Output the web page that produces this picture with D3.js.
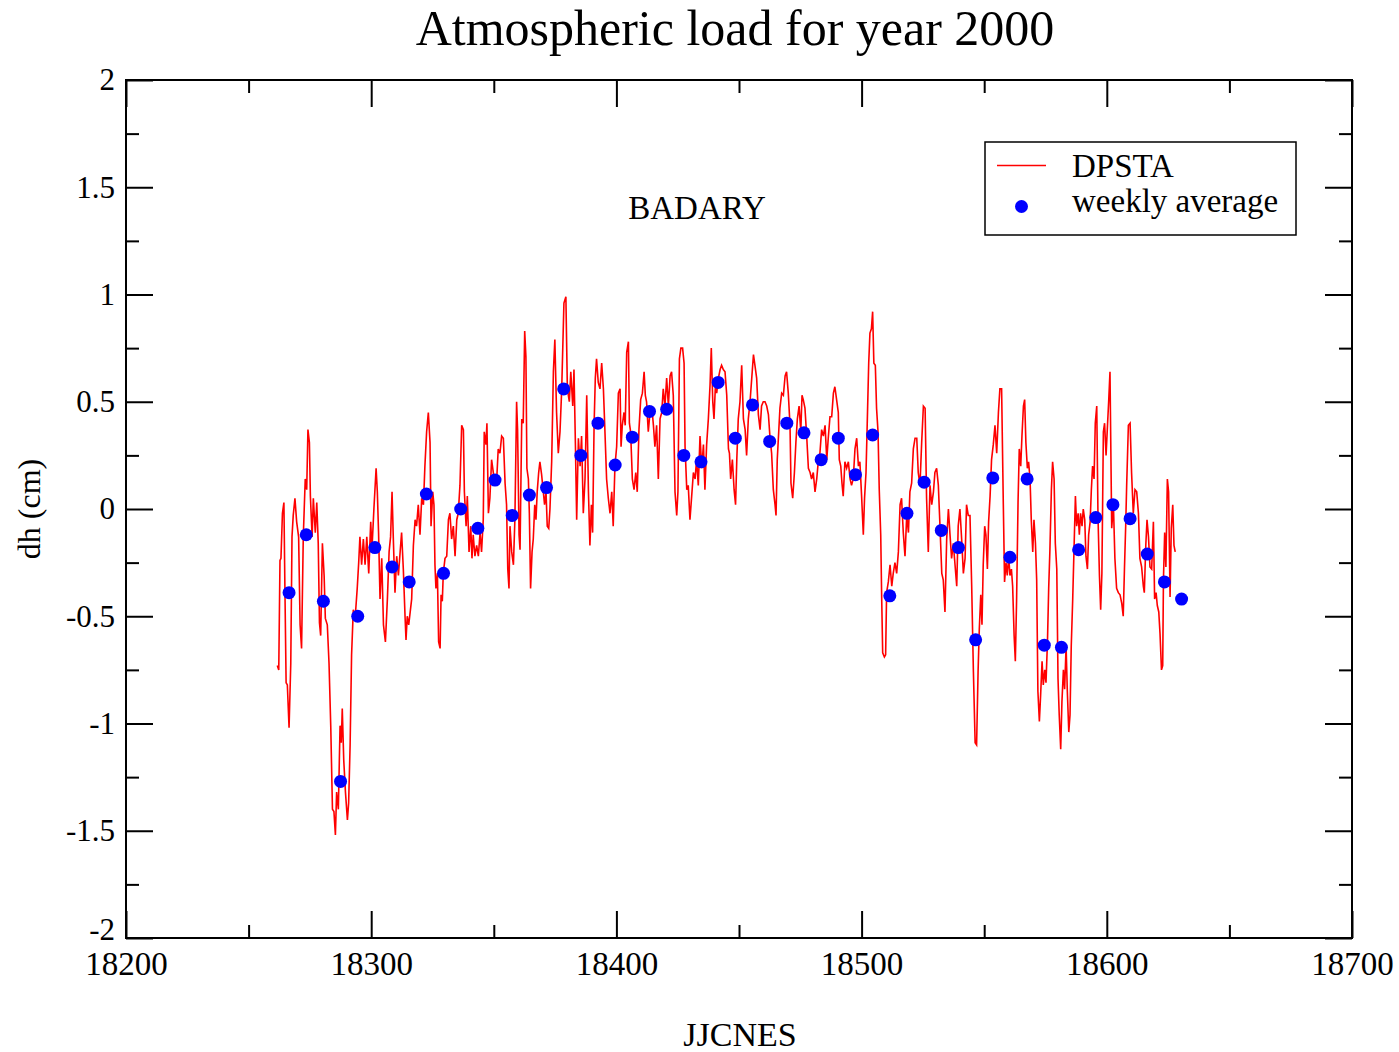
<!DOCTYPE html>
<html>
<head>
<meta charset="utf-8">
<script src="https://cdn.jsdelivr.net/npm/d3@7"></script>
<style>
  body { margin: 0; background: #fff; }
  svg { display: block; }
  text { font-family: "Liberation Serif", "Times New Roman", serif; fill: #000; }
</style>
</head>
<body>
<div id="chart"></div>
<script>
// chart texts
const title = "Atmospheric load for year 2000";
const station = "BADARY";
const xLabel = "JJCNES";
const yLabel = "dh (cm)";
const seriesNames = ["DPSTA", "weekly average"];

// axis ticks
const xMajor = [18200, 18300, 18400, 18500, 18600, 18700];
const xMinor = [18250, 18350, 18450, 18550, 18650];
const yMajor = [-2, -1.5, -1, -0.5, 0, 0.5, 1, 1.5, 2];
const yMajorLabels = ["-2", "-1.5", "-1", "-0.5", "0", "0.5", "1", "1.5", "2"];
const yMinor = [-1.75, -1.25, -0.75, -0.25, 0.25, 0.75, 1.25, 1.75];

// DPSTA series, [JJCNES day, dh cm]
const dpsta = [
  [18261.7,-0.73],[18262.3,-0.75],[18262.8,-0.24],[18263.2,-0.23],[18263.8,-0.02],[18264.4,0.03],[18264.8,-0.36],
  [18265.3,-0.81],[18265.8,-0.82],[18266.5,-1.02],[18267.2,-0.72],[18267.7,-0.13],[18268.2,-0.03],[18268.9,0.05],
  [18269.6,-0.06],[18270.4,-0.13],[18271.0,-0.54],[18271.6,-0.65],[18272.3,-0.13],[18273.1,0.14],[18273.7,0.09],
  [18274.2,0.37],[18274.8,0.31],[18275.2,0.06],[18275.9,-0.13],[18276.4,0.05],[18277.2,-0.11],[18277.8,0.03],
  [18278.4,-0.16],[18278.9,-0.53],[18279.4,-0.59],[18280.1,-0.16],[18280.8,-0.31],[18281.3,-0.51],[18282.1,-0.54],
  [18282.8,-0.72],[18283.5,-1.01],[18284.2,-1.40],[18284.8,-1.41],[18285.4,-1.52],[18285.9,-1.32],[18286.6,-1.40],
  [18287.3,-1.01],[18287.8,-1.09],[18288.2,-0.93],[18288.8,-1.17],[18289.5,-1.32],[18290.3,-1.45],[18290.8,-1.37],
  [18291.4,-1.10],[18292.0,-0.68],[18292.7,-0.47],[18293.5,-0.50],[18294.3,-0.37],[18294.9,-0.25],[18295.4,-0.13],
  [18296.1,-0.26],[18296.8,-0.14],[18297.5,-0.26],[18298.2,-0.13],[18299.0,-0.30],[18299.8,-0.06],[18300.3,-0.19],
  [18301.1,0.00],[18302.0,0.19],[18302.5,0.08],[18303.0,-0.11],[18303.6,-0.42],[18304.3,-0.23],[18305.0,-0.54],
  [18305.8,-0.62],[18306.6,-0.42],[18307.3,-0.20],[18307.9,-0.13],[18308.5,0.08],[18309.0,-0.13],[18309.7,-0.39],
  [18310.4,-0.22],[18311.1,-0.31],[18311.8,-0.20],[18312.4,-0.11],[18313.1,-0.28],[18313.8,-0.50],[18314.2,-0.61],
  [18314.7,-0.50],[18315.3,-0.54],[18316.0,-0.47],[18316.5,-0.42],
  [18317.2,-0.17],[18317.9,-0.05],[18318.5,-0.08],[18319.2,0.02],[18319.9,-0.12],[18320.6,0.05],[18321.3,0.02],
  [18321.9,0.20],[18322.6,0.36],[18323.3,0.45],[18324.0,0.31],[18324.4,-0.08],[18325.1,0.08],[18325.6,0.02],
  [18326.0,-0.26],[18326.4,-0.37],[18327.0,-0.30],[18327.5,-0.62],[18328.1,-0.65],[18328.5,-0.40],[18329.0,-0.43],
  [18329.4,-0.30],[18330.1,-0.23],[18330.8,-0.22],[18331.5,-0.05],[18332.1,-0.02],[18332.8,-0.14],[18333.5,-0.08],
  [18334.2,-0.22],[18334.9,-0.05],[18335.5,-0.02],[18336.2,0.11],[18336.9,0.39],[18337.6,0.37],[18338.0,0.08],
  [18338.7,-0.08],[18339.2,0.06],[18339.9,-0.20],[18340.6,-0.08],[18341.1,-0.23],[18341.6,-0.12],[18342.3,-0.22],
  [18343.0,-0.17],[18343.7,-0.22],[18344.4,-0.11],[18345.0,-0.20],[18345.7,-0.05],[18346.1,0.36],[18346.8,0.30],
  [18347.2,0.40],[18347.8,-0.02],[18348.4,0.05],[18349.1,0.23],[18349.8,0.17],[18350.5,0.11],[18351.2,0.14],
  [18351.8,0.28],[18352.5,0.26],[18353.2,0.34],[18353.9,0.33],[18354.6,0.12],[18355.2,0.02],[18355.7,-0.28],
  [18356.2,-0.37],[18356.6,-0.08],[18357.3,-0.20],[18358.0,-0.26],[18358.6,-0.05],[18359.3,0.50],[18359.7,0.37],
  [18360.3,-0.12],[18360.7,-0.19],[18361.4,0.42],[18362.0,0.40],[18362.6,0.83],[18363.1,0.71],[18363.5,0.19],
  [18364.1,0.14],[18364.5,-0.02],[18365.0,-0.37],[18365.6,-0.20],[18366.1,-0.14],[18366.7,0.02],[18367.2,-0.05],
  [18367.7,0.08],[18368.3,0.17],[18368.8,0.22],[18369.5,0.16],[18370.2,0.08],[18370.7,0.02],[18371.3,0.08],
  [18371.8,-0.08],[18372.4,-0.09],
  [18372.9,0.00],[18373.6,0.22],[18374.3,0.64],[18374.9,0.79],[18375.6,0.45],[18376.3,0.26],[18377.0,0.36],
  [18377.7,0.56],[18378.6,0.96],[18379.4,0.99],[18380.0,0.56],[18380.8,0.50],[18381.4,0.64],[18382.2,0.48],
  [18382.7,0.65],[18383.3,0.29],[18383.8,-0.05],[18384.5,0.33],[18385.2,0.20],[18385.8,0.34],[18386.5,-0.02],
  [18387.2,0.14],[18387.9,0.53],[18388.6,0.08],[18389.2,-0.17],[18389.8,0.02],[18390.3,-0.11],[18390.9,0.39],
  [18391.4,0.61],[18391.9,0.70],[18392.6,0.59],[18393.3,0.56],[18394.0,0.68],[18394.7,0.56],[18395.3,0.37],
  [18396.0,0.14],[18396.7,0.05],[18397.4,-0.02],[18398.1,0.08],[18398.7,-0.08],[18399.4,0.20],[18400.1,0.29],
  [18400.8,0.54],[18401.5,0.56],[18401.9,0.29],[18402.4,0.39],[18403.1,0.45],[18403.6,0.39],[18404.2,0.73],
  [18404.9,0.78],[18405.3,0.40],[18405.8,0.36],[18406.5,0.14],[18407.2,0.09],[18407.9,0.17],[18408.5,0.08],
  [18409.2,0.37],[18409.9,0.51],[18410.6,0.54],[18411.3,0.64],[18411.8,0.53],[18412.3,0.50],[18413.0,0.36],
  [18413.7,0.45],[18414.4,0.48],[18415.1,0.39],[18415.7,0.29],[18416.4,0.39],[18417.1,0.14],[18417.8,0.42],
  [18418.5,0.45],[18419.1,0.56],[18419.8,0.48],[18420.5,0.61],[18421.2,0.48],[18421.9,0.62],[18422.5,0.64],
  [18423.2,0.53],[18423.9,0.08],[18424.6,-0.03],[18425.1,0.08],[18425.7,0.70],[18426.3,0.75],[18427.0,0.75],
  [18427.6,0.68],[18428.0,0.29],[18428.7,0.09],[18429.3,0.11],
  [18430.0,-0.05],[18430.7,0.06],[18431.4,0.17],[18432.1,0.14],[18432.7,0.23],[18433.4,0.11],[18434.1,0.34],
  [18434.8,0.19],[18435.5,0.30],[18436.1,0.09],[18436.8,0.30],[18437.5,0.42],[18438.2,0.58],[18438.7,0.75],
  [18439.3,0.50],[18439.8,0.42],[18440.4,0.58],[18440.9,0.54],[18441.6,0.61],[18442.3,0.65],[18442.9,0.67],
  [18443.6,0.65],[18444.3,0.64],[18445.0,0.53],[18445.7,0.28],[18446.1,0.26],[18446.6,0.14],[18447.3,0.23],
  [18448.0,0.09],[18448.6,0.02],[18449.1,0.23],[18449.7,0.42],[18450.4,0.50],[18451.1,0.67],[18451.8,0.42],
  [18452.5,0.37],[18453.1,0.25],[18453.8,0.42],[18454.5,0.50],[18455.2,0.61],[18455.9,0.72],[18456.5,0.67],
  [18457.2,0.61],[18457.9,0.44],[18458.6,0.37],[18459.2,0.48],[18459.9,0.50],[18460.6,0.50],[18461.3,0.48],
  [18462.0,0.44],[18462.6,0.34],[18463.3,0.26],[18464.0,0.09],[18464.7,0.02],[18465.1,-0.03],[18465.6,0.23],
  [18466.2,0.36],[18466.7,0.47],[18467.4,0.54],[18468.1,0.53],[18468.8,0.62],[18469.4,0.64],[18470.1,0.54],
  [18470.8,0.39],[18471.2,0.12],[18471.9,0.05],[18472.6,0.17],[18473.2,0.31],[18473.8,0.42],[18474.5,0.48],
  [18475.2,0.36],[18475.7,0.53],[18476.2,0.51],[18476.9,0.47],[18477.6,0.34],[18478.3,0.19],[18479.0,0.17],
  [18479.6,0.14],[18480.3,0.17],[18481.0,0.08],[18481.7,0.14],[18482.4,0.23],[18483.0,0.26],[18483.7,0.37],
  [18484.4,0.34],[18485.1,0.39],[18485.8,0.23],[18486.4,0.33],
  [18487.1,0.43],[18487.8,0.43],[18488.5,0.54],[18489.1,0.57],[18489.8,0.51],[18490.5,0.45],[18490.9,0.23],
  [18491.5,0.20],[18492.0,0.12],[18492.5,0.06],[18493.2,0.22],[18493.9,0.19],[18494.6,0.22],[18495.3,0.14],
  [18495.9,0.11],[18496.6,0.14],[18497.3,0.28],[18498.0,0.33],[18498.7,0.20],[18499.3,0.22],[18500.0,0.06],
  [18500.7,-0.12],[18501.2,0.05],[18501.8,0.17],[18502.3,0.40],[18502.9,0.68],[18503.4,0.82],[18504.0,0.84],
  [18504.5,0.92],[18505.0,0.68],[18505.6,0.67],[18506.1,0.47],[18506.7,0.36],[18507.2,0.09],[18507.8,-0.12],
  [18508.2,-0.42],[18508.6,-0.67],[18509.3,-0.69],[18509.8,-0.68],[18510.2,-0.39],[18510.9,-0.34],[18511.6,-0.26],
  [18512.3,-0.36],[18512.9,-0.30],[18513.6,-0.25],[18514.3,-0.30],[18515.0,-0.20],[18515.7,0.02],[18516.3,0.05],
  [18517.0,-0.11],[18517.7,-0.22],[18518.4,-0.03],[18519.1,-0.11],[18519.7,0.08],[18520.4,0.12],[18521.1,0.28],
  [18521.8,0.33],[18522.5,0.33],[18523.1,0.17],[18523.8,0.11],[18524.5,0.31],[18525.2,0.48],[18525.9,0.47],
  [18526.5,0.05],[18527.2,-0.20],[18527.9,0.11],[18528.6,0.02],[18529.3,0.08],[18529.9,0.17],[18530.6,0.19],
  [18531.3,0.11],[18532.0,-0.09],[18532.7,-0.30],[18533.3,-0.33],[18534.0,-0.48],[18534.7,-0.14],[18535.4,0.00],
  [18536.0,-0.11],[18536.7,-0.23],[18537.4,-0.16],[18538.1,-0.26],[18538.8,-0.36],[18539.4,-0.08],[18540.1,0.00],
  [18540.8,-0.14],[18541.5,-0.30],[18542.2,-0.23],[18542.8,0.02],[18543.5,-0.03],
  [18544.2,-0.03],[18544.9,-0.36],[18545.6,-0.76],[18546.3,-1.09],[18546.9,-1.10],[18547.5,-0.76],[18548.0,-0.56],
  [18548.6,-0.40],[18549.1,-0.54],[18549.6,-0.26],[18550.2,-0.08],[18550.7,-0.12],[18551.3,-0.28],[18551.8,-0.06],
  [18552.4,0.06],[18553.0,0.23],[18553.7,0.30],[18554.4,0.39],[18555.1,0.26],[18555.8,0.45],[18556.4,0.56],
  [18557.1,0.56],[18557.8,0.02],[18558.3,-0.34],[18558.9,-0.25],[18559.4,-0.31],[18560.0,-0.22],[18560.5,-0.31],
  [18561.1,-0.28],[18561.6,-0.36],[18562.2,-0.59],[18562.7,-0.71],[18563.2,-0.43],[18563.8,0.03],[18564.3,0.28],
  [18564.9,0.20],[18565.4,0.34],[18566.0,0.48],[18566.5,0.51],[18567.0,0.31],[18567.6,0.19],[18568.1,0.22],
  [18568.7,0.14],[18569.2,-0.05],[18569.8,-0.20],[18570.3,-0.05],[18570.9,-0.16],[18571.4,-0.33],[18571.9,-0.85],
  [18572.5,-0.99],[18573.0,-0.87],[18573.6,-0.71],[18574.1,-0.82],[18574.7,-0.75],[18575.2,-0.81],[18575.8,-0.62],
  [18576.3,-0.37],[18576.8,-0.19],[18577.4,0.09],[18577.9,0.22],[18578.5,0.14],[18579.0,-0.16],[18579.6,-0.28],
  [18580.1,-0.79],[18580.6,-0.96],[18581.2,-1.12],[18581.7,-0.90],[18582.3,-0.75],[18582.8,-0.84],[18583.4,-0.64],
  [18583.9,-0.85],[18584.5,-1.04],[18585.0,-0.96],[18585.5,-0.64],[18586.1,-0.42],[18586.6,-0.20],[18587.2,0.06],
  [18587.7,-0.08],[18588.3,-0.02],[18588.8,-0.12],[18589.3,-0.02],[18589.9,-0.08],[18590.4,0.00],[18591.0,-0.05],
  [18591.5,-0.22],[18592.1,-0.28],[18592.6,-0.12],[18593.2,-0.06],[18593.7,0.09],[18594.2,0.20],[18594.8,0.14],
  [18595.3,0.40],[18595.9,0.48],[18596.4,-0.03],[18597.0,-0.31],[18597.5,-0.47],[18598.0,-0.30],[18598.6,0.36],
  [18599.1,0.40],[18599.7,0.25],[18600.2,0.37],[18600.8,0.51],
  [18601.3,0.64],[18602.0,-0.09],[18602.7,0.02],[18603.3,-0.23],[18604.0,-0.37],[18604.7,-0.39],[18605.4,-0.40],
  [18606.1,-0.44],[18606.7,-0.50],[18607.2,-0.28],[18607.7,-0.08],[18608.1,0.11],[18608.8,0.39],[18609.5,0.40],
  [18610.1,0.17],[18610.8,-0.02],[18611.5,0.09],[18612.2,0.08],[18612.9,-0.02],[18613.5,-0.23],[18614.2,-0.27],
  [18614.9,-0.36],[18615.3,-0.39],[18615.9,-0.17],[18616.4,-0.05],[18617.0,-0.13],[18617.6,-0.27],[18618.3,-0.28],
  [18619.0,-0.06],[18619.5,-0.42],[18620.1,-0.39],[18620.6,-0.45],[18621.2,-0.48],[18621.7,-0.58],[18622.3,-0.75],
  [18622.8,-0.73],[18623.1,-0.33],[18623.6,-0.11],[18624.1,-0.27],[18624.7,0.14],[18625.2,0.08],[18625.8,-0.41],
  [18626.3,-0.09],[18626.9,0.02],[18627.4,-0.17],[18627.9,-0.20]
];

// weekly averages
const weekDay = [
  18266.5, 18273.5, 18280.5, 18287.5, 18294.5, 18301.5, 18308.5, 18315.5, 18322.5, 18329.5,
  18336.5, 18343.5, 18350.5, 18357.5, 18364.5, 18371.5, 18378.5, 18385.5, 18392.5, 18399.5,
  18406.5, 18413.5, 18420.5, 18427.5, 18434.5, 18441.5, 18448.5, 18455.5, 18462.5, 18469.5,
  18476.5, 18483.5, 18490.5, 18497.5, 18504.5, 18511.5, 18518.5, 18525.5, 18532.5, 18539.5,
  18546.5, 18553.5, 18560.5, 18567.5, 18574.5, 18581.5, 18588.5, 18595.5, 18602.5, 18609.5,
  18616.5, 18623.5, 18630.5
];
const weekDh = [
  -0.39, -0.12, -0.43, -1.27, -0.50, -0.18, -0.27, -0.34, 0.07, -0.30,
  0.00, -0.09, 0.135, -0.03, 0.065, 0.10, 0.56, 0.25, 0.40, 0.205,
  0.335, 0.455, 0.465, 0.25, 0.22, 0.59, 0.33, 0.485, 0.315, 0.40,
  0.355, 0.23, 0.33, 0.16, 0.345, -0.405, -0.02, 0.125, -0.10, -0.18,
  -0.61, 0.145, -0.225, 0.14, -0.635, -0.645, -0.19, -0.04, 0.02, -0.045,
  -0.21, -0.34, -0.42
];

const width = 1399, height = 1052;
const plot = { left: 126, top: 80, right: 1352, bottom: 938 };

const svg = d3.select("#chart").append("svg")
  .attr("width", width)
  .attr("height", height);

const x = d3.scaleLinear().domain([18200, 18700]).range([plot.left, plot.right]);
const y = d3.scaleLinear().domain([-2, 2]).range([plot.bottom, plot.top]);

// title
svg.append("text")
  .attr("x", 735).attr("y", 45)
  .attr("text-anchor", "middle")
  .style("font-size", "50px")
  .text(title);

// inward ticks on the four sides
function styleTicks(g) {
  g.select(".domain").remove();
  g.selectAll(".tick line").attr("stroke", "#000").attr("stroke-width", 2);
}

svg.append("g")
  .attr("transform", "translate(0," + plot.bottom + ")")
  .call(d3.axisBottom(x).tickValues(xMajor).tickSize(-27).tickPadding(14).tickFormat(d3.format("d")))
  .call(styleTicks)
  .call(g => g.selectAll("text").style("font-size", "33px").style("font-family", "Liberation Serif, serif").attr("fill", "#000"));

svg.append("g")
  .attr("transform", "translate(0," + plot.bottom + ")")
  .call(d3.axisBottom(x).tickValues(xMinor).tickSize(-13).tickFormat(""))
  .call(styleTicks);

svg.append("g")
  .attr("transform", "translate(0," + plot.top + ")")
  .call(d3.axisTop(x).tickValues(xMajor).tickSize(-27).tickFormat(""))
  .call(styleTicks);

svg.append("g")
  .attr("transform", "translate(0," + plot.top + ")")
  .call(d3.axisTop(x).tickValues(xMinor).tickSize(-13).tickFormat(""))
  .call(styleTicks);

svg.append("g")
  .attr("transform", "translate(" + plot.left + ",0)")
  .call(d3.axisLeft(y).tickValues(yMajor).tickSize(-27).tickPadding(11)
    .tickFormat((d, i) => yMajorLabels[i]))
  .call(styleTicks)
  .call(g => g.selectAll("text").style("font-size", "31px").style("font-family", "Liberation Serif, serif").attr("fill", "#000"))
  // lowest label sits just above the 18200 label, as in the original
  .call(g => g.selectAll("text").filter(d => d === -2).attr("dy", "0.05em"));

svg.append("g")
  .attr("transform", "translate(" + plot.left + ",0)")
  .call(d3.axisLeft(y).tickValues(yMinor).tickSize(-13).tickFormat(""))
  .call(styleTicks);

svg.append("g")
  .attr("transform", "translate(" + plot.right + ",0)")
  .call(d3.axisRight(y).tickValues(yMajor).tickSize(-27).tickFormat(""))
  .call(styleTicks);

svg.append("g")
  .attr("transform", "translate(" + plot.right + ",0)")
  .call(d3.axisRight(y).tickValues(yMinor).tickSize(-13).tickFormat(""))
  .call(styleTicks);

// frame
svg.append("rect")
  .attr("x", plot.left).attr("y", plot.top)
  .attr("width", plot.right - plot.left).attr("height", plot.bottom - plot.top)
  .attr("fill", "none").attr("stroke", "#000").attr("stroke-width", 2);

// axis titles
svg.append("text")
  .attr("x", 740).attr("y", 1046)
  .attr("text-anchor", "middle")
  .style("font-size", "34px")
  .text(xLabel);

svg.append("text")
  .attr("transform", "translate(40,509) rotate(-90)")
  .attr("text-anchor", "middle")
  .style("font-size", "32px")
  .text(yLabel);

// station name
svg.append("text")
  .attr("x", 697).attr("y", 219)
  .attr("text-anchor", "middle")
  .style("font-size", "33px")
  .text(station);

// DPSTA line
const line = d3.line()
  .x(d => x(d[0]))
  .y(d => y(d[1]));

svg.append("path")
  .datum(dpsta)
  .attr("d", line)
  .attr("fill", "none")
  .attr("stroke", "#ff0000")
  .attr("stroke-width", 1.6);

// weekly average dots
svg.append("g").selectAll("circle")
  .data(weekDay)
  .enter()
  .append("circle")
  .attr("cx", d => x(d))
  .attr("cy", (d, i) => y(weekDh[i]))
  .attr("r", 6.5)
  .attr("fill", "#0000ff");

// legend
const legend = svg.append("g");
legend.append("rect")
  .attr("x", 985).attr("y", 142)
  .attr("width", 311).attr("height", 93)
  .attr("fill", "#fff").attr("stroke", "#000").attr("stroke-width", 1.5);
legend.append("line")
  .attr("x1", 997).attr("x2", 1046)
  .attr("y1", 165.5).attr("y2", 165.5)
  .attr("stroke", "#ff0000").attr("stroke-width", 1.3);
legend.append("circle")
  .attr("cx", 1021.5).attr("cy", 206.5)
  .attr("r", 6.5)
  .attr("fill", "#0000ff");
legend.selectAll("text.name")
  .data(seriesNames)
  .enter()
  .append("text")
  .attr("class", "name")
  .attr("x", 1072)
  .attr("y", (d, i) => i === 0 ? 177 : 212)
  .style("font-size", "33px")
  .text(d => d);
</script>
</body>
</html>
